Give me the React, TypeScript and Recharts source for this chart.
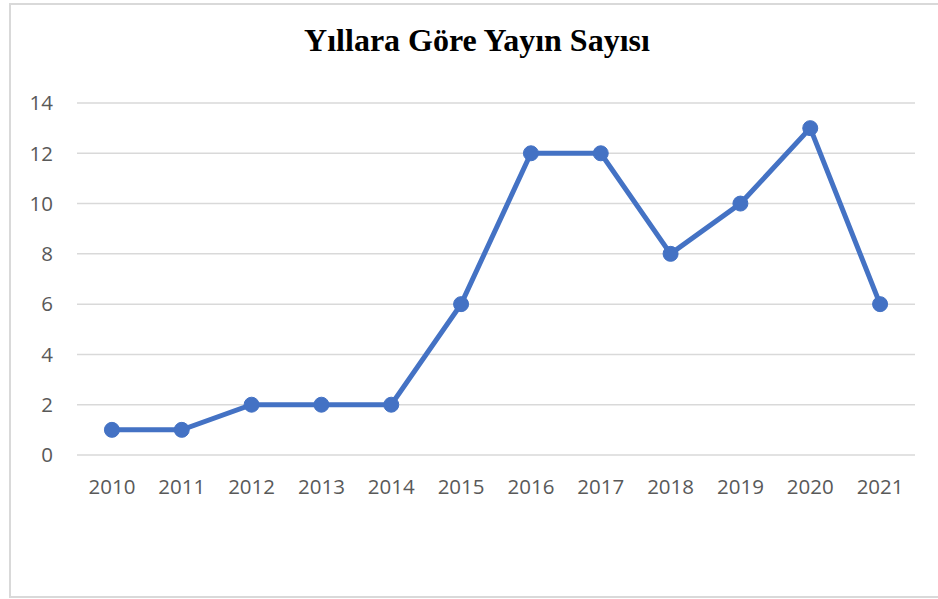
import { CartesianGrid, Line, LineChart, XAxis, YAxis } from "recharts";

const years = ["2010", "2011", "2012", "2013", "2014", "2015", "2016", "2017", "2018", "2019", "2020", "2021"];
const counts = [1, 1, 2, 2, 2, 6, 12, 12, 8, 10, 13, 6];
const yTicks = [0, 2, 4, 6, 8, 10, 12, 14];

const data = years.map((year, i) => ({ year, count: counts[i] }));

const tickStyle = { fontSize: 20.5, fill: "#595959", fontFamily: "'Open Sans', sans-serif" };

export default function App() {
  return (
    <div
      style={{
        position: "absolute",
        left: 0,
        top: 0,
        width: 938,
        height: 599,
        overflow: "hidden",
        background: "#fff",
      }}
    >
      <div
        style={{
          position: "absolute",
          left: 9,
          top: 3,
          width: 940,
          height: 591,
          border: "2px solid #d9d9d9",
        }}
      />
      <div
        style={{
          position: "absolute",
          left: 0,
          top: 22,
          width: 954,
          textAlign: "center",
          fontFamily: "'Liberation Serif', 'Times New Roman', serif",
          fontWeight: "bold",
          fontSize: 32,
          color: "#000",
        }}
      >
        Yıllara Göre Yayın Sayısı
      </div>
      <div style={{ position: "absolute", left: 0, top: 0 }}>
        <LineChart
          width={938}
          height={599}
          data={data}
          margin={{ top: 103, right: 23, bottom: 104, left: 0 }}
        >
          <CartesianGrid vertical={false} stroke="#d9d9d9" strokeWidth={1.5} />
          <XAxis
            dataKey="year"
            scale="band"
            axisLine={false}
            tickLine={false}
            tickSize={0}
            tickMargin={24}
            height={40}
            interval={0}
            tick={tickStyle}
          />
          <YAxis
            domain={[0, 14]}
            ticks={yTicks}
            axisLine={false}
            tickLine={false}
            tickSize={0}
            tickMargin={24}
            width={77}
            tick={tickStyle}
          />
          <Line
            type="linear"
            dataKey="count"
            stroke="#4472C4"
            strokeWidth={5}
            dot={{ r: 7.5, fill: "#4472C4", stroke: "#4472C4", strokeWidth: 1 }}
            isAnimationActive={false}
          />
        </LineChart>
      </div>
    </div>
  );
}
